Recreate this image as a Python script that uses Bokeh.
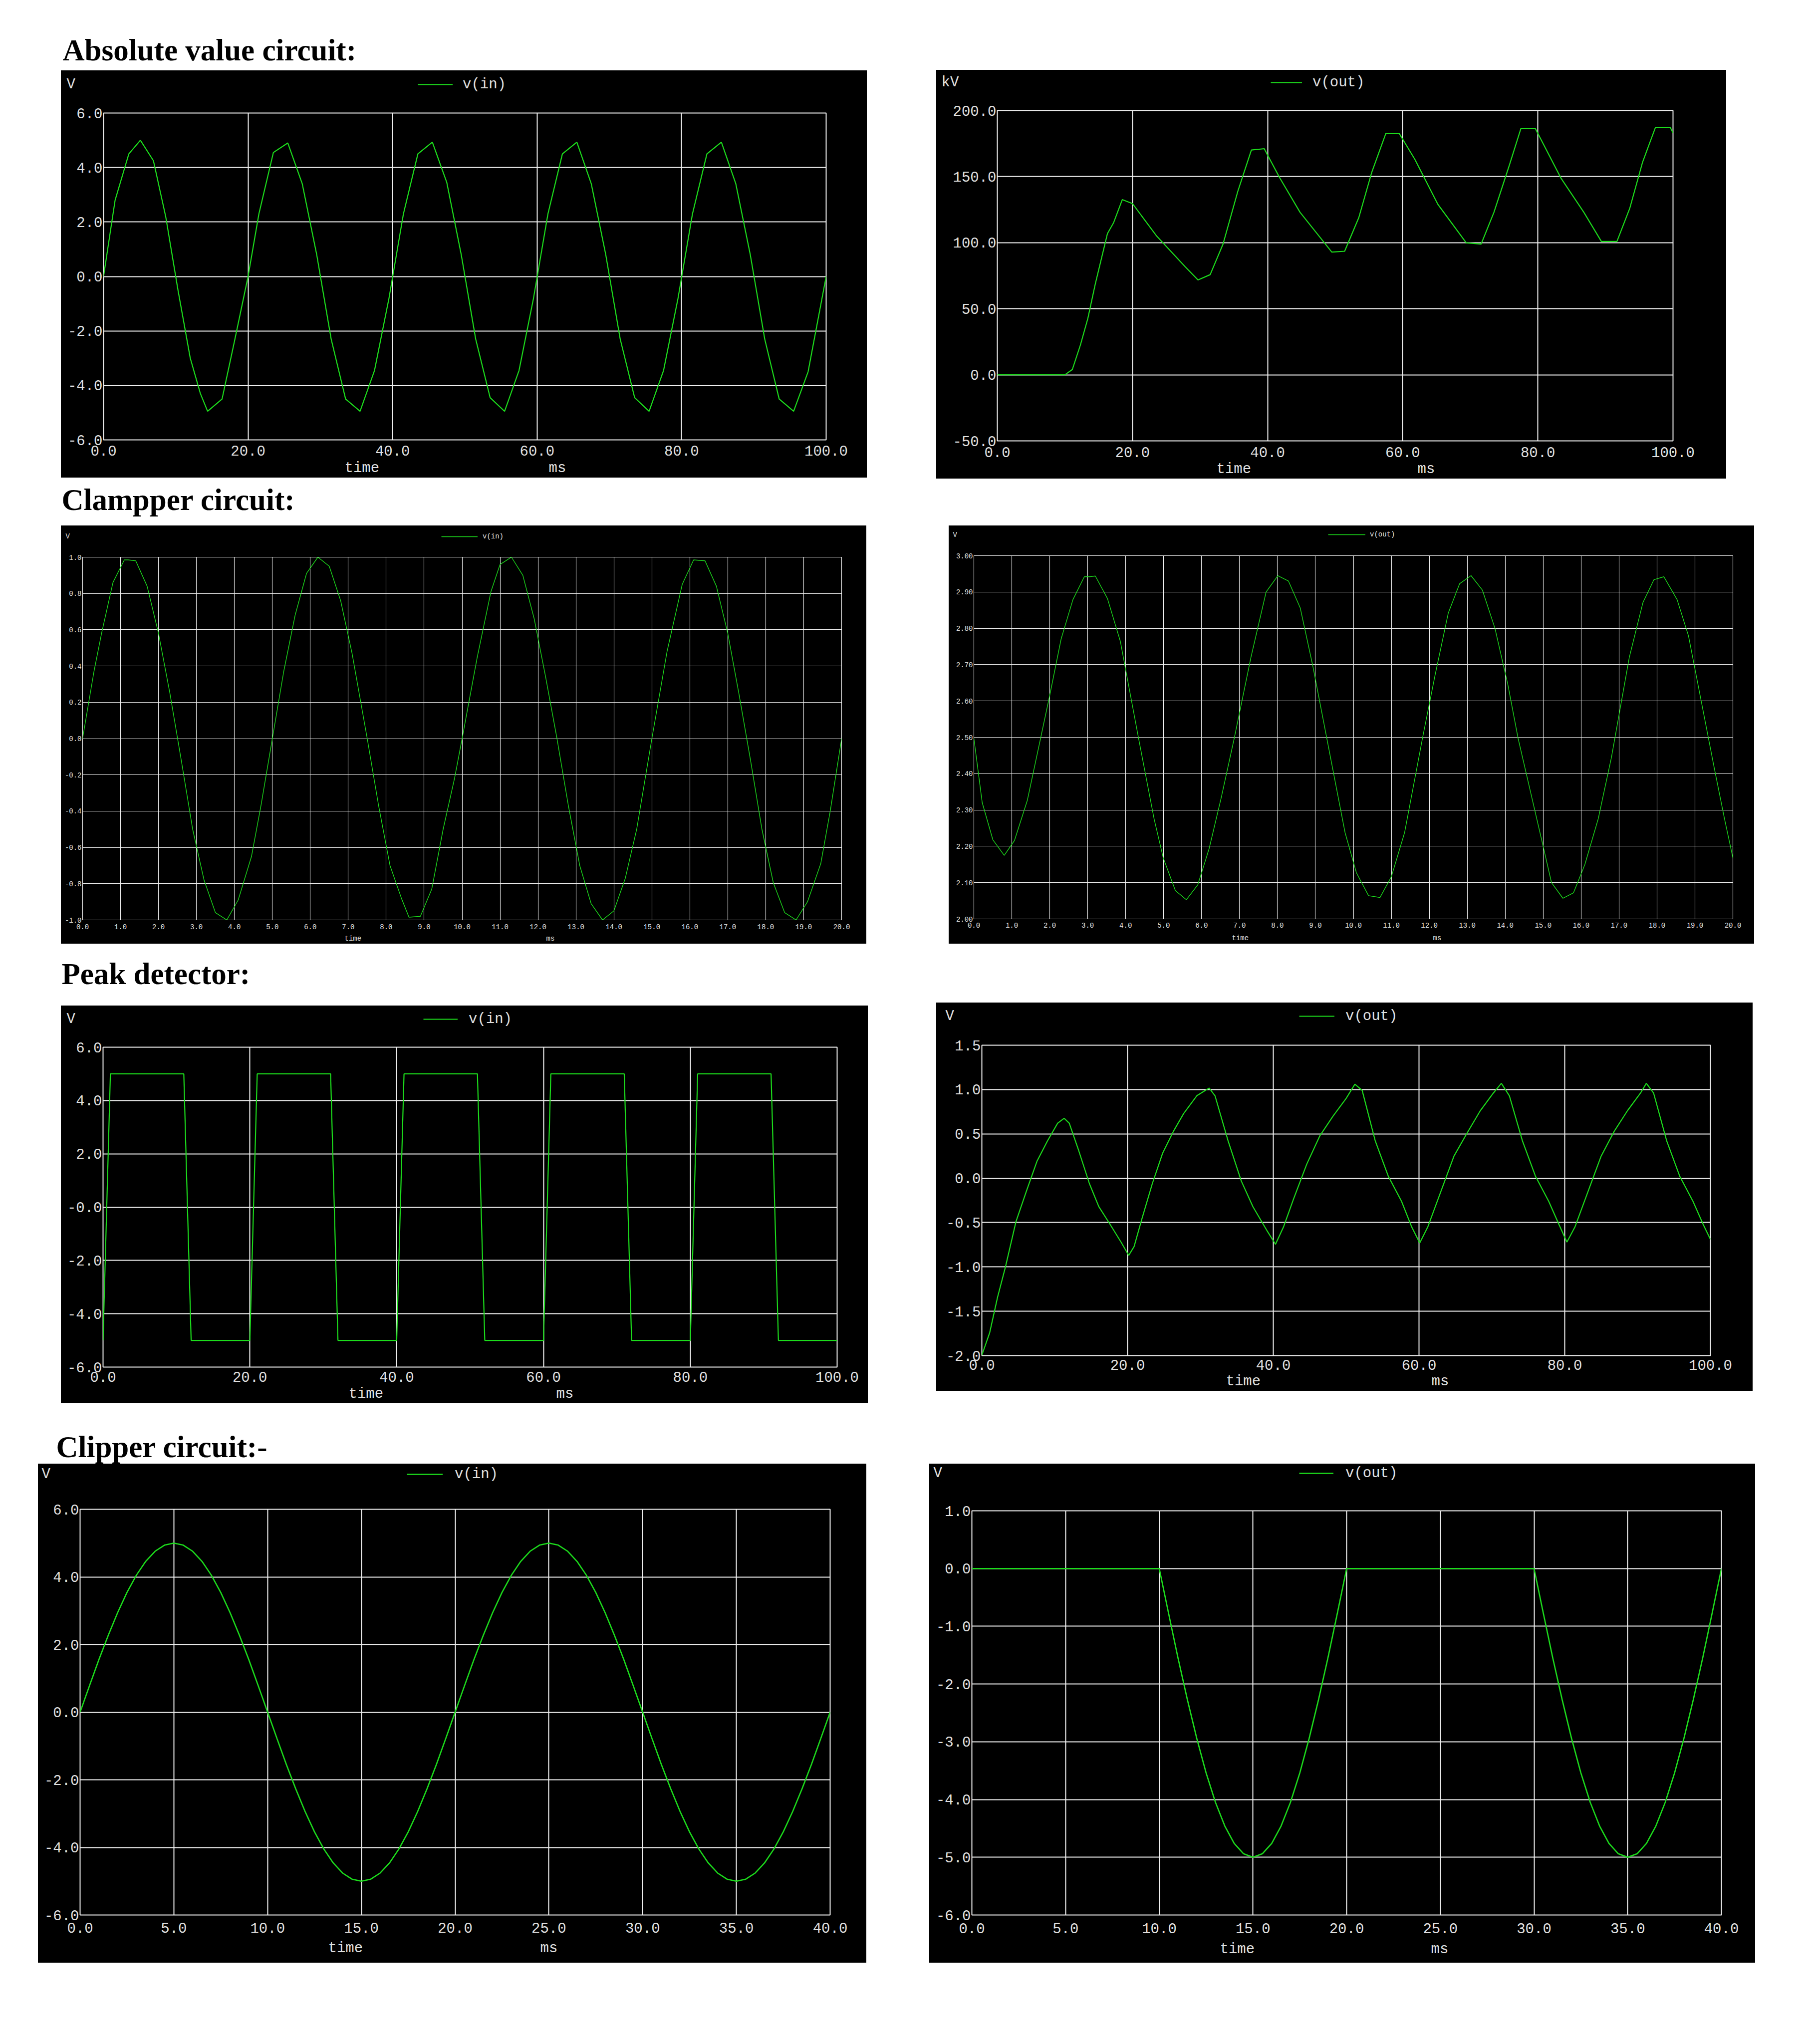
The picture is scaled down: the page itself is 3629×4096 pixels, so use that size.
from bokeh.plotting import figure
from bokeh.models import (Range1d, FixedTicker, Label, Legend, LegendItem, Spacer, Row, Column,
                          LinearAxis)
from bokeh.embed import file_html
from bokeh.resources import INLINE

K = 0.845


def S(v):
    return int(round(v * K))


GREEN = "#1cdc1c"
GRID = "#f0f0f0"
TXT = "#e0e0e0"
MONO = "Liberation Mono"

# ------------------------------------------------------------------ data
# Absolute value circuit: v(in) [V] vs time [ms]
abs_in_t = [0.0, 1.6, 3.5, 5.1, 6.9, 8.6, 10.3, 12.0, 13.4, 14.4, 16.4, 18.1, 20.0,
            21.5, 23.5, 25.5, 27.5, 29.5, 31.5, 33.5, 35.5, 37.5, 39.5,
            41.5, 43.5, 45.5, 47.5, 49.5, 51.5, 53.5, 55.5, 57.5, 59.5,
            61.5, 63.5, 65.5, 67.5, 69.5, 71.5, 73.5, 75.5, 77.5, 79.5,
            81.5, 83.5, 85.5, 87.5, 89.5, 91.5, 93.5, 95.5, 97.5, 100.0]
abs_in_v = [0.0, 2.8, 4.5, 5.0, 4.25, 2.2, -0.5, -3.0, -4.3, -4.95, -4.5, -2.4, 0.0,
            2.3, 4.55, 4.9, 3.4, 0.8, -2.3, -4.5, -4.95, -3.45, -0.8,
            2.3, 4.5, 4.93, 3.45, 0.8, -2.3, -4.45, -4.95, -3.45, -0.8,
            2.3, 4.5, 4.93, 3.4, 0.8, -2.3, -4.45, -4.95, -3.45, -0.8,
            2.3, 4.5, 4.93, 3.4, 0.8, -2.3, -4.5, -4.95, -3.5, 0.0]

# Absolute value circuit: v(out) [kV]
abs_out_t = [0.0, 10.0, 11.1, 12.3, 13.4, 14.5, 16.3, 17.2, 18.5, 20.0,
             23.6, 27.8, 29.7, 31.5, 33.4, 35.6, 37.6, 39.5, 41.8, 44.8,
             49.5, 51.4, 53.5, 55.4, 57.5, 59.5, 61.8, 65.2, 69.4, 71.6,
             73.5, 75.8, 77.5, 79.6, 83.4, 86.8, 89.4, 91.7, 93.6, 95.5,
             97.4, 99.6, 100.0]
abs_out_v = [0.0, 0.0, 4.0, 22.6, 42.7, 68.8, 106.9, 115.0, 132.6, 129.6,
             104.9, 81.8, 71.8, 75.8, 98.9, 139.0, 170.1, 171.1, 149.0, 123.0,
             92.9, 93.5, 119.0, 153.0, 182.7, 182.5, 163.0, 129.0, 99.9, 98.9,
             123.0, 159.0, 186.6, 186.6, 149.0, 123.0, 100.9, 100.9, 126.0, 161.0,
             187.2, 187.2, 183.0]

# Clamper circuit: v(in)
clamp_in_t = [0.0, 0.3, 0.5, 0.8, 1.1, 1.2, 1.4, 1.7, 2.0, 2.3, 2.6, 2.9, 3.2, 3.5, 3.8,
              4.1, 4.45, 4.7, 5.0, 5.3, 5.6, 5.9, 6.2, 6.5, 6.8, 7.1, 7.5, 7.8, 8.1,
              8.4, 8.6, 8.9, 9.2, 9.5, 9.8, 10.0, 10.4, 10.76, 11.0, 11.3, 11.6, 11.9,
              12.2, 12.5, 12.8, 13.1, 13.4, 13.7, 14.0, 14.3, 14.6, 15.0, 15.4, 15.8,
              16.1, 16.4, 16.7, 17.0, 17.3, 17.6, 17.9, 18.2, 18.5, 18.8, 19.1, 19.45,
              19.7, 20.0]
clamp_in_v = [0.0, 0.37, 0.58, 0.86, 0.985, 0.985, 0.98, 0.84, 0.58, 0.25, -0.12, -0.5,
              -0.78, -0.96, -1.0, -0.89, -0.65, -0.37, 0.0, 0.37, 0.68, 0.91, 1.0, 0.95,
              0.76, 0.47, 0.0, -0.37, -0.7, -0.88, -0.985, -0.98, -0.83, -0.5, -0.22,
              0.0, 0.45, 0.81, 0.96, 1.0, 0.9, 0.66, 0.34, 0.0, -0.37, -0.7, -0.91, -1.0,
              -0.95, -0.77, -0.5, 0.0, 0.48, 0.85, 0.985, 0.98, 0.84, 0.58, 0.24, -0.12,
              -0.5, -0.795, -0.96, -1.0, -0.9, -0.69, -0.4, 0.0]

# Clamper circuit: v(out)
clamp_out_t = [0.0, 0.22, 0.5, 0.8, 1.07, 1.41, 2.0, 2.3, 2.61, 2.91,
               3.05, 3.2, 3.52, 3.86, 4.34, 4.75, 4.99, 5.31, 5.6, 5.9,
               6.2, 6.52, 6.86, 7.3, 7.7, 8.01, 8.29, 8.6, 8.93, 9.3,
               9.78, 10.08, 10.4, 10.7, 11.0, 11.35, 11.82, 12.15, 12.5, 12.8, 13.1,
               13.4, 13.73, 14.07, 14.34, 14.7, 15.0, 15.22, 15.52, 15.8, 16.1,
               16.45, 16.8, 17.27, 17.63, 17.92, 18.18, 18.53, 18.83, 19.17, 19.5,
               19.78, 20.0]
clamp_out_v = [2.497, 2.32, 2.218, 2.175, 2.216, 2.327, 2.616, 2.771, 2.879, 2.942,
               2.942, 2.944, 2.882, 2.764, 2.497, 2.275, 2.168, 2.078, 2.053, 2.094,
               2.194, 2.335, 2.497, 2.72, 2.9, 2.945, 2.93, 2.856, 2.697, 2.497,
               2.238, 2.127, 2.064, 2.059, 2.116, 2.238, 2.497, 2.67, 2.842, 2.923, 2.945,
               2.905, 2.8, 2.645, 2.497, 2.335, 2.2, 2.1, 2.057, 2.072, 2.15,
               2.275, 2.445, 2.72, 2.871, 2.934, 2.942, 2.879, 2.779, 2.597, 2.42,
               2.275, 2.168]

# Peak detector: v(in)
peak_in_t = [0.0, 1.0, 11.0, 12.0, 20.0, 21.0, 31.0, 32.0, 40.0, 41.0, 51.0,
             52.0, 60.0, 61.0, 71.0, 72.0, 80.0, 81.0, 91.0, 92.0, 100.0]
peak_in_v = [-5.0, 5.0, 5.0, -5.0, -5.0, 5.0, 5.0, -5.0, -5.0, 5.0, 5.0,
             -5.0, -5.0, 5.0, 5.0, -5.0, -5.0, 5.0, 5.0, -5.0, -5.0]

# Peak detector: v(out)
peak_out_t = [0.0, 1.08, 2.16, 3.24, 4.68, 6.1, 7.56, 9.0, 10.4, 11.3,
              12.0, 13.3, 14.76, 16.05, 17.6, 19.1, 20.16, 20.9, 21.96, 23.4,
              24.8, 26.3, 27.7, 29.5, 31.2, 32.0, 33.8, 35.6, 37.2, 39.2,
              40.3, 41.4, 42.8, 44.6, 46.4, 48.2, 50.0, 51.2, 52.2, 54.0,
              55.8, 57.6, 59.0, 60.1, 61.2, 63.0, 64.8, 66.6, 68.4, 70.2,
              71.3, 72.4, 74.2, 76.0, 77.8, 79.2, 80.3, 81.4, 83.2, 85.0,
              86.8, 88.6, 90.4, 91.2, 92.2, 94.0, 95.8, 97.6, 99.0, 100.0]
peak_out_v = [-1.995, -1.74, -1.34, -1.0, -0.49, -0.15, 0.19, 0.42, 0.62, 0.676,
              0.62, 0.31, -0.06, -0.32, -0.52, -0.72, -0.87, -0.77, -0.46, -0.06,
              0.28, 0.53, 0.73, 0.93, 1.017, 0.93, 0.42, -0.03, -0.32, -0.6,
              -0.745, -0.55, -0.23, 0.16, 0.48, 0.7, 0.9, 1.06, 0.99, 0.42,
              0.02, -0.26, -0.55, -0.73, -0.55, -0.15, 0.25, 0.51, 0.76, 0.96,
              1.07, 0.93, 0.42, 0.02, -0.26, -0.52, -0.72, -0.55, -0.15, 0.25,
              0.53, 0.76, 0.96, 1.07, 0.96, 0.42, 0.02, -0.26, -0.52, -0.69]

# Clipper circuit: time samples shared by v(in) and v(out)
clip_t = [0.0, 0.5, 1.0, 1.5, 2.0, 2.5, 3.0, 3.5, 4.0, 4.5, 5.0, 5.5, 6.0, 6.5, 7.0, 7.5,
          8.0, 8.5, 9.0, 9.5, 10.0, 10.5, 11.0, 11.5, 12.0, 12.5, 13.0, 13.5, 14.0, 14.5,
          15.0, 15.5, 16.0, 16.5, 17.0, 17.5, 18.0, 18.5, 19.0, 19.5, 20.0, 20.5, 21.0,
          21.5, 22.0, 22.5, 23.0, 23.5, 24.0, 24.5, 25.0, 25.5, 26.0, 26.5, 27.0, 27.5,
          28.0, 28.5, 29.0, 29.5, 30.0, 30.5, 31.0, 31.5, 32.0, 32.5, 33.0, 33.5, 34.0,
          34.5, 35.0, 35.5, 36.0, 36.5, 37.0, 37.5, 38.0, 38.5, 39.0, 39.5, 40.0]
clip_in_v = [0.0, 0.78, 1.55, 2.27, 2.94, 3.54, 4.05, 4.46, 4.76, 4.94,
             5.0, 4.94, 4.76, 4.46, 4.05, 3.54, 2.94, 2.27, 1.55, 0.78,
             0.0, -0.78, -1.55, -2.27, -2.94, -3.54, -4.05, -4.46, -4.76, -4.94,
             -5.0, -4.94, -4.76, -4.46, -4.05, -3.54, -2.94, -2.27, -1.55, -0.78,
             0.0, 0.78, 1.55, 2.27, 2.94, 3.54, 4.05, 4.46, 4.76, 4.94,
             5.0, 4.94, 4.76, 4.46, 4.05, 3.54, 2.94, 2.27, 1.55, 0.78,
             0.0, -0.78, -1.55, -2.27, -2.94, -3.54, -4.05, -4.46, -4.76, -4.94,
             -5.0, -4.94, -4.76, -4.46, -4.05, -3.54, -2.94, -2.27, -1.55, -0.78,
             0.0]
clip_out_v = [0.0, 0.0, 0.0, 0.0, 0.0, 0.0, 0.0, 0.0, 0.0, 0.0,
              0.0, 0.0, 0.0, 0.0, 0.0, 0.0, 0.0, 0.0, 0.0, 0.0,
              0.0, -0.78, -1.55, -2.27, -2.94, -3.54, -4.05, -4.46, -4.76, -4.94,
              -5.0, -4.94, -4.76, -4.46, -4.05, -3.54, -2.94, -2.27, -1.55, -0.78,
              0.0, 0.0, 0.0, 0.0, 0.0, 0.0, 0.0, 0.0, 0.0, 0.0,
              0.0, 0.0, 0.0, 0.0, 0.0, 0.0, 0.0, 0.0, 0.0, 0.0,
              0.0, -0.78, -1.55, -2.27, -2.94, -3.54, -4.05, -4.46, -4.76, -4.94,
              -5.0, -4.94, -4.76, -4.46, -4.05, -3.54, -2.94, -2.27, -1.55, -0.78,
              0.0]

# ------------------------------------------------------------------ ticks
ms100_ticks = [0, 20, 40, 60, 80, 100]
ms100_labels = ["0.0", "20.0", "40.0", "60.0", "80.0", "100.0"]
ms20_ticks = [0, 1, 2, 3, 4, 5, 6, 7, 8, 9, 10, 11, 12, 13, 14, 15, 16, 17, 18, 19, 20]
ms20_labels = ["0.0", "1.0", "2.0", "3.0", "4.0", "5.0", "6.0", "7.0", "8.0", "9.0", "10.0",
               "11.0", "12.0", "13.0", "14.0", "15.0", "16.0", "17.0", "18.0", "19.0", "20.0"]
ms40_ticks = [0, 5, 10, 15, 20, 25, 30, 35, 40]
ms40_labels = ["0.0", "5.0", "10.0", "15.0", "20.0", "25.0", "30.0", "35.0", "40.0"]

v6_ticks = [-6, -4, -2, 0, 2, 4, 6]
v6_labels = ["-6.0", "-4.0", "-2.0", "0.0", "2.0", "4.0", "6.0"]
v6m_labels = ["-6.0", "-4.0", "-2.0", "-0.0", "2.0", "4.0", "6.0"]
kv_ticks = [-50, 0, 50, 100, 150, 200]
kv_labels = ["-50.0", "0.0", "50.0", "100.0", "150.0", "200.0"]
v1_ticks = [-1.0, -0.8, -0.6, -0.4, -0.2, 0.0, 0.2, 0.4, 0.6, 0.8, 1.0]
v1_labels = ["-1.0", "-0.8", "-0.6", "-0.4", "-0.2", "0.0", "0.2", "0.4", "0.6", "0.8", "1.0"]
v23_ticks = [2.0, 2.1, 2.2, 2.3, 2.4, 2.5, 2.6, 2.7, 2.8, 2.9, 3.0]
v23_labels = ["2.00", "2.10", "2.20", "2.30", "2.40", "2.50", "2.60", "2.70", "2.80", "2.90", "3.00"]
v15_ticks = [-2.0, -1.5, -1.0, -0.5, 0.0, 0.5, 1.0, 1.5]
v15_labels = ["-2.0", "-1.5", "-1.0", "-0.5", "0.0", "0.5", "1.0", "1.5"]
v61_ticks = [-6, -5, -4, -3, -2, -1, 0, 1]
v61_labels = ["-6.0", "-5.0", "-4.0", "-3.0", "-2.0", "-1.0", "0.0", "1.0"]

# ------------------------------------------------------------------ panel layout (reference px)
PANELS = {
    "abs_in": dict(box=(144, 167, 2056, 1133), frame=(245, 267, 1958, 1044),
                   t=abs_in_t, v=abs_in_v, xr=(0, 100), yr=(-6, 6),
                   xt=(ms100_ticks, ms100_labels), yt=(v6_ticks, v6_labels),
                   unit="V", series="v(in)", unit_xy=(157, 200), leg=(991, 1073, 200, 1097),
                   tm=(817, 1301, 1108), fs=29, glw=2.0, slw=2.2, xs=11),
    "abs_out": dict(box=(2220, 166, 4094, 1135), frame=(2365, 261, 3967, 1048),
                    t=abs_out_t, v=abs_out_v, xr=(0, 100), yr=(-50, 200),
                    xt=(ms100_ticks, ms100_labels), yt=(kv_ticks, kv_labels),
                    unit="kV", series="v(out)", unit_xy=(2232, 195), leg=(3013, 3088, 195, 3113),
                    tm=(2884, 3361, 1112), fs=29, glw=2.0, slw=2.2, xs=12),
    "clamp_in": dict(box=(144, 1246, 2055, 2238), frame=(195, 1321, 1995, 2183),
                     t=clamp_in_t, v=clamp_in_v, xr=(0, 20), yr=(-1, 1),
                     xt=(ms20_ticks, ms20_labels), yt=(v1_ticks, v1_labels),
                     unit="V", series="v(in)", unit_xy=(155, 1271), leg=(1046, 1132, 1272, 1144),
                     tm=(817, 1295, 2224), fs=14, glw=1.1, slw=1.4, xs=8),
    "clamp_out": dict(box=(2250, 1246, 4160, 2238), frame=(2309, 1317, 4109, 2179),
                      t=clamp_out_t, v=clamp_out_v, xr=(0, 20), yr=(2, 3),
                      xt=(ms20_ticks, ms20_labels), yt=(v23_ticks, v23_labels),
                      unit="V", series="v(out)", unit_xy=(2259, 1267), leg=(3149, 3238, 1267, 3248),
                      tm=(2921, 3398, 2220), fs=14, glw=1.1, slw=1.4, xs=7),
    "peak_in": dict(box=(144, 2385, 2058, 3328), frame=(244, 2483, 1985, 3251),
                    t=peak_in_t, v=peak_in_v, xr=(0, 100), yr=(-6, 6),
                    xt=(ms100_ticks, ms100_labels), yt=(v6_ticks, v6m_labels),
                    unit="V", series="v(in)", unit_xy=(157, 2416), leg=(1003, 1085, 2416, 1111),
                    tm=(826, 1318, 3313), fs=29, glw=2.0, slw=2.2, xs=9),
    "peak_out": dict(box=(2220, 2377, 4156, 3298), frame=(2328, 2478, 4056, 3216),
                     t=peak_out_t, v=peak_out_v, xr=(0, 100), yr=(-2, 1.5),
                     xt=(ms100_ticks, ms100_labels), yt=(v15_ticks, v15_labels),
                     unit="V", series="v(out)", unit_xy=(2242, 2409), leg=(3081, 3165, 2409, 3190),
                     tm=(2906, 3394, 3275), fs=29, glw=2.0, slw=2.2, xs=8),
    "clip_in": dict(box=(90, 3471, 2055, 4654), frame=(189, 3579, 1968, 4541),
                    t=clip_t, v=clip_in_v, xr=(0, 40), yr=(-6, 6),
                    xt=(ms40_ticks, ms40_labels), yt=(v6_ticks, v6_labels),
                    unit="V", series="v(in)", unit_xy=(98, 3496), leg=(964, 1050, 3496, 1078),
                    tm=(778, 1280, 4617), fs=29, glw=2.0, slw=2.6, xs=15),
    "clip_out": dict(box=(2204, 3471, 4162, 4654), frame=(2304, 3582, 4082, 4541),
                     t=clip_t, v=clip_out_v, xr=(0, 40), yr=(-6, 1),
                     xt=(ms40_ticks, ms40_labels), yt=(v61_ticks, v61_labels),
                     unit="V", series="v(out)", unit_xy=(2213, 3494), leg=(3080, 3162, 3494, 3191),
                     tm=(2892, 3393, 4619), fs=29, glw=2.0, slw=2.6, xs=16),
}

BANDS = [
    ("title", 0, 166, "Absolute value circuit:", 148, 142),
    ("panels", 166, 1135, ["abs_in", "abs_out"]),
    ("title", 1135, 1246, "Clampper circuit:", 145, 1208),
    ("panels", 1246, 2238, ["clamp_in", "clamp_out"]),
    ("title", 2238, 2377, "Peak detector:", 145, 2333),
    ("panels", 2377, 3328, ["peak_in", "peak_out"]),
    ("title", 3328, 3471, "Clipper circuit:-", 133, 3455),
    ("panels", 3471, 4654, ["clip_in", "clip_out"]),
]
PAGE_W = 4292


def no_align(f):
    # keep every canvas's frame where its own borders put it
    try:
        f.frame_align = False
    except Exception:
        pass
    return f


def style_axis(ax, fs, standoff):
    ax.axis_line_color = None
    ax.major_tick_line_color = None
    ax.minor_tick_line_color = None
    ax.major_tick_out = 0
    ax.major_tick_in = 0
    ax.minor_tick_out = 0
    ax.minor_tick_in = 0
    ax.major_label_standoff = standoff
    ax.major_label_text_font = MONO
    ax.major_label_text_font_size = f"{fs}px"
    ax.major_label_text_color = TXT


def make_panel(sp):
    bx0, by0, bx1, by1 = sp["box"]
    fx0, fy0, fx1, fy1 = sp["frame"]
    fs = sp["fs"]
    big = fs > 20
    x0, x1 = sp["xr"]
    y0, y1 = sp["yr"]
    W = S(bx1) - S(bx0)
    hm = 0.86 * fs  # measured height of a tick-label line
    split = S(fy0) - int(hm / 2 + 0.999) - 4

    # ---------------- caption strip above the frame: unit + legend
    Hs = split - S(by0)
    span = y1 - y0
    # the strip's own y range lies far below the series values, so the series renderer
    # used for the legend sample stays off-canvas while the legend draws its line
    st = figure(width=W, height=Hs, title=None, output_backend="svg", toolbar_location=None,
                x_range=Range1d(x0, x1), y_range=Range1d(y0 - 30 * span, y0 - 20 * span),
                min_border=0, outline_line_color=None, background_fill_color="black",
                border_fill_color="black")
    no_align(st)
    st.axis.visible = False
    st.grid.visible = False

    def sx(X):
        return S(X) - S(bx0)

    def sy(Y):
        return Hs - (S(Y) - S(by0))

    ux, uy = sp["unit_xy"]
    st.add_layout(Label(x=sx(ux), y=sy(uy), x_units="screen", y_units="screen",
                        text=sp["unit"], text_font=MONO, text_font_size=f"{fs}px",
                        text_color=TXT, text_baseline="middle", text_align="left"))
    lx0, lx1, ly, ltx = sp["leg"]
    H = 36 if big else 18
    sample = st.line(sp["t"], sp["v"], line_color=GREEN, line_width=sp["slw"])
    st.add_layout(Legend(items=[LegendItem(label=sp["series"], renderers=[sample])],
                         location=(sx(lx0), sy(ly) - H / 2), orientation="horizontal",
                         glyph_width=S(lx1) - S(lx0), glyph_height=H, label_height=H,
                         label_standoff=S(ltx) - S(lx1), padding=0, margin=0,
                         border_line_color=None, background_fill_alpha=0,
                         label_text_font=MONO, label_text_font_size=f"{fs}px",
                         label_text_color=TXT))

    # ---------------- main plot
    p = figure(width=W, height=S(by1) - split, title=None,
               output_backend="svg", toolbar_location=None,
               x_range=Range1d(x0, x1), y_range=Range1d(y0, y1),
               min_border_left=S(fx0) - S(bx0), min_border_right=S(bx1) - S(fx1),
               min_border_top=S(fy0) - split, min_border_bottom=S(by1) - S(fy1),
               background_fill_color="black", border_fill_color="black",
               outline_line_color=GRID, outline_line_width=sp["glw"])
    no_align(p)
    for ax, grid, (ticks, labels) in ((p.xaxis, p.xgrid, sp["xt"]), (p.yaxis, p.ygrid, sp["yt"])):
        ax.ticker = FixedTicker(ticks=ticks)
        grid.ticker = FixedTicker(ticks=ticks)
        ax.major_label_overrides = {tk: lb for tk, lb in zip(ticks, labels)}
    style_axis(p.xaxis, fs, sp["xs"])
    style_axis(p.yaxis, fs, 2)
    p.grid.grid_line_color = GRID
    p.grid.grid_line_width = sp["glw"]

    p.line(sp["t"], sp["v"], line_color=GREEN, line_width=sp["slw"])

    # "time" ... "ms": a second, label-only x axis stacked under the tick labels
    tx, mx, ty = sp["tm"]
    fw = S(fx1) - S(fx0)
    cw = 0.6 * fs
    t_pos = x0 + (S(tx) + 2 * cw - S(fx0)) / fw * (x1 - x0)
    m_pos = x0 + (S(mx) + cw - S(fx0)) / fw * (x1 - x0)
    border = S(by1) - S(fy1)
    diff = S(ty) - S(fy1)
    s2 = diff - sp["xs"] - 1.5 * hm
    s2 = min(s2, border - sp["xs"] - 2 * hm - 1)
    ax2 = LinearAxis(ticker=FixedTicker(ticks=[t_pos, m_pos]),
                     major_label_overrides={t_pos: "time", m_pos: "ms"})
    style_axis(ax2, fs, int(round(s2)))
    p.add_layout(ax2, "below")

    return Column(children=[st, p], spacing=0, styles={"background-color": "black"})


def make_title(y0, y1, text, tx, tbase):
    f = figure(width=S(PAGE_W), height=S(y1) - S(y0), title=None, output_backend="svg",
               toolbar_location=None, x_range=Range1d(0, 1), y_range=Range1d(0, 1),
               min_border=0, outline_line_color=None,
               background_fill_color="white", border_fill_color="white")
    no_align(f)
    f.axis.visible = False
    f.grid.visible = False
    f.add_layout(Label(x=S(tx), y=S(y1) - S(tbase) + 20, x_units="screen", y_units="screen",
                       text=text, text_font="Liberation Serif", text_font_style="bold",
                       text_font_size="61px", text_color="black",
                       text_baseline="middle", text_align="left"))
    return f


bands = []
for band in BANDS:
    if band[0] == "title":
        _, y0, y1, text, tx, tb = band
        bands.append(make_title(y0, y1, text, tx, tb))
    else:
        _, top, bottom, keys = band
        children = []
        cur = 0
        for k in keys:
            sp = PANELS[k]
            panel = make_panel(sp)
            bx0, by0, bx1, by1 = sp["box"]
            gap = S(bx0) - cur
            if gap > 0:
                children.append(Spacer(width=gap, height=1))
            dy = S(by0) - S(top)
            if dy > 0:
                children.append(Column(children=[Spacer(width=1, height=dy), panel], spacing=0))
            else:
                children.append(panel)
            cur = S(bx1)
        bands.append(Row(children=children, spacing=0))

root = Column(children=bands, spacing=0)

with open("out.html", "w") as fh:
    fh.write(file_html(root, INLINE))
